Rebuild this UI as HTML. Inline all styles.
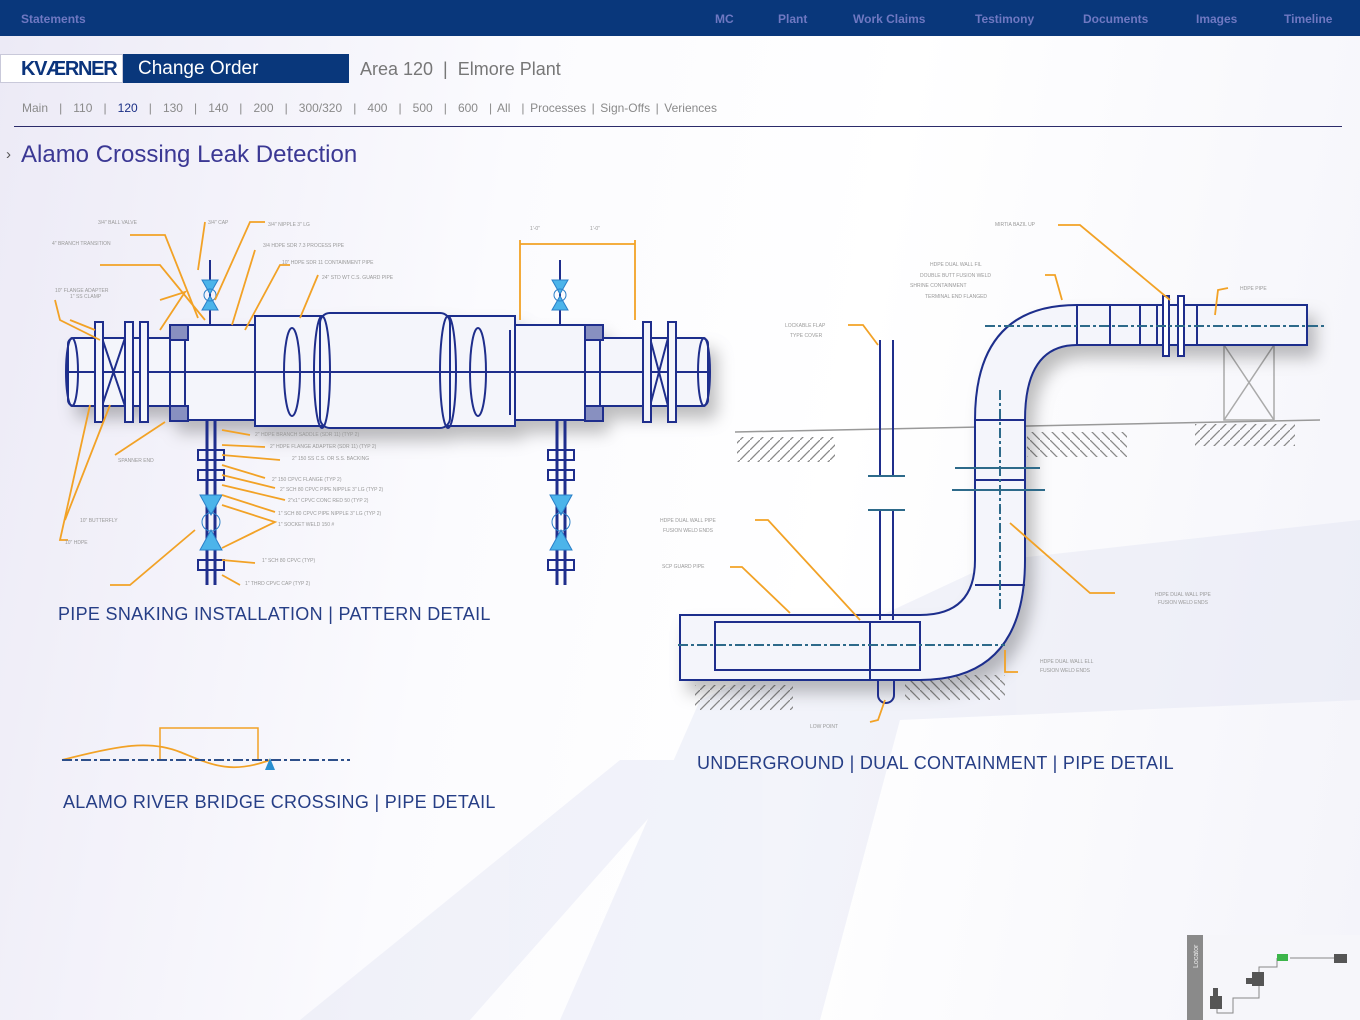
<!DOCTYPE html>
<html><head><meta charset="utf-8"><style>
*{margin:0;padding:0;box-sizing:border-box}
body{width:1360px;height:1020px;overflow:hidden;position:relative;font-family:"Liberation Sans",Arial,sans-serif;background:linear-gradient(100deg,#eceaf6 0%,#fbfbfe 35%,#ffffff 60%,#f4f4fa 100%)}
#top{position:absolute;left:0;top:0;width:1360px;height:36px;background:#09377b}
#top span{position:absolute;top:12px;font-size:12px;font-weight:bold;color:#6f78c2}
.logo{position:absolute;left:0;top:54px;width:123px;height:29px;background:#fff;border:1px solid #c9c9da;font-weight:bold;font-size:20px;color:#0b347c;padding:3px 0 0 20px;letter-spacing:-1.3px}
.co{position:absolute;left:123px;top:54px;width:226px;height:29px;background:#09377b;color:#fff;font-size:19px;padding:4px 0 0 15px}
.area{position:absolute;left:360px;top:59px;font-size:18px;color:#777}
.nav{position:absolute;left:22px;top:101px;font-size:12px;color:#8a8a8a;word-spacing:2.2px}
.nav b{font-weight:normal;color:#1a2f85}
.rule{position:absolute;left:14px;top:126px;width:1328px;height:1px;background:#2b2b6a}
h1{position:absolute;left:21px;top:141px;font-size:24px;font-weight:normal;color:#3b3894}
.arr{position:absolute;left:6px;top:146px;font-size:15px;color:#555}
.cap{position:absolute;font-size:18px;color:#263e86;font-weight:normal;letter-spacing:0.3px}
</style></head><body>
<svg width="1360" height="1020" style="position:absolute;left:0;top:0">
<g fill="#d6daef" opacity="0.3">
<polygon points="560,1020 700,700 760,690 900,720 820,1020"/>
<polygon points="700,700 1000,560 1360,520 1360,700 900,720"/>
<polygon points="300,1020 620,760 700,760 470,1020"/>
</g>
</svg>
<div id="top">
<span style="left:21px">Statements</span><span style="left:715px">MC</span><span style="left:778px">Plant</span><span style="left:853px">Work Claims</span><span style="left:975px">Testimony</span><span style="left:1083px">Documents</span><span style="left:1196px">Images</span><span style="left:1284px">Timeline</span>
</div>
<div class="logo">KVÆRNER</div>
<div class="co">Change Order</div>
<div class="area">Area 120 &nbsp;|&nbsp; Elmore Plant</div>
<div class="nav">Main &nbsp;| &nbsp;110 &nbsp;| &nbsp;<b>120</b> &nbsp;| &nbsp;130 &nbsp;| &nbsp;140 &nbsp;| &nbsp;200 &nbsp;| &nbsp;300/320 &nbsp;| &nbsp;400 &nbsp;| &nbsp;500 &nbsp;| &nbsp;600 &nbsp;| All &nbsp;| Processes | Sign-Offs | Veriences</div>
<div class="rule"></div>
<div class="arr">›</div>
<h1>Alamo Crossing Leak Detection</h1>

<svg width="1360" height="1020" style="position:absolute;left:0;top:0">
<defs><filter id="sh" x="-10%" y="-10%" width="130%" height="140%"><feDropShadow dx="8" dy="12" stdDeviation="8" flood-color="#000" flood-opacity="0.25"/></filter>
<pattern id="hat" width="10" height="10" patternUnits="userSpaceOnUse"><path d="M0,10 L10,0" stroke="#888" stroke-width="1.3"/></pattern>
<pattern id="hat2" width="10" height="10" patternUnits="userSpaceOnUse"><path d="M0,0 L10,10" stroke="#888" stroke-width="1.3"/></pattern></defs>
<g stroke="#1f2e8c" stroke-width="2" fill="#f4f5fb" filter="url(#sh)">
<rect x="68" y="338" width="640" height="68" rx="6"/>
<rect x="170" y="325" width="430" height="95"/>
<rect x="255" y="316" width="70" height="110"/>
<rect x="445" y="316" width="70" height="110"/>
<rect x="320" y="313" width="130" height="115" rx="10"/>
</g>
<g stroke="#1f2e8c" stroke-width="2" fill="none">
<line x1="68" y1="372" x2="708" y2="372"/>
<line x1="185" y1="338" x2="185" y2="406"/><line x1="255" y1="330" x2="255" y2="415"/><line x1="510" y1="330" x2="510" y2="415"/><line x1="585" y1="338" x2="585" y2="406"/>
<ellipse cx="72" cy="372" rx="6" ry="34"/><ellipse cx="704" cy="372" rx="6" ry="34"/>
<ellipse cx="292" cy="372" rx="8" ry="44"/><ellipse cx="322" cy="372" rx="8" ry="56"/><ellipse cx="448" cy="372" rx="8" ry="56"/><ellipse cx="478" cy="372" rx="8" ry="44"/>
<path d="M102,338 L125,406 M125,338 L102,406 M650,338 L668,406 M668,338 L650,406"/>
<rect x="95" y="322" width="8" height="100" fill="#f4f5fb"/><rect x="125" y="322" width="8" height="100" fill="#f4f5fb"/><rect x="140" y="322" width="8" height="100" fill="#f4f5fb"/>
<rect x="643" y="322" width="8" height="100" fill="#f4f5fb"/><rect x="668" y="322" width="8" height="100" fill="#f4f5fb"/>
<rect x="170" y="325" width="18" height="15" fill="#8890c0"/><rect x="170" y="406" width="18" height="15" fill="#8890c0"/>
<rect x="585" y="325" width="18" height="15" fill="#8890c0"/><rect x="585" y="406" width="18" height="15" fill="#8890c0"/>
<line x1="210" y1="260" x2="210" y2="325"/><line x1="560" y1="260" x2="560" y2="325"/>
<line x1="207" y1="420" x2="207" y2="585" stroke-width="3"/><line x1="215" y1="420" x2="215" y2="585" stroke-width="3"/>
<line x1="557" y1="420" x2="557" y2="585" stroke-width="3"/><line x1="565" y1="420" x2="565" y2="585" stroke-width="3"/>
<rect x="198" y="450" width="26" height="10"/><rect x="198" y="470" width="26" height="10"/><rect x="198" y="560" width="26" height="10"/>
<rect x="548" y="450" width="26" height="10"/><rect x="548" y="470" width="26" height="10"/><rect x="548" y="560" width="26" height="10"/>
</g>
<g fill="#4cb4ea" stroke="#2a7fc8" stroke-width="1">
<path d="M202,280 L218,280 L210,294Z M202,310 L218,310 L210,296Z"/><circle cx="210" cy="295" r="6" fill="none"/>
<path d="M552,280 L568,280 L560,294Z M552,310 L568,310 L560,296Z"/><circle cx="560" cy="295" r="6" fill="none"/>
<path d="M200,495 L222,495 L211,515Z M200,550 L222,550 L211,530Z"/><circle cx="211" cy="522" r="9" fill="none"/>
<path d="M550,495 L572,495 L561,515Z M550,550 L572,550 L561,530Z"/><circle cx="561" cy="522" r="9" fill="none"/>
</g>
<g stroke="#f2a226" stroke-width="1.8" fill="none">
<path d="M130,235 L165,235 L198,318"/><path d="M205,222 L198,270"/><path d="M265,222 L250,222 L215,300"/><path d="M100,265 L160,265 L205,320"/>
<path d="M55,300 L60,320 L100,340"/><path d="M70,320 L95,330"/><path d="M160,300 L185,292 L160,330"/><path d="M255,250 L232,325"/><path d="M290,265 L280,265 L245,330"/><path d="M318,275 L300,318"/>
<path d="M520,244 L635,244 M520,240 L520,320 M635,240 L635,320"/>
<path d="M90,405 L60,540 L68,540"/><path d="M110,405 L65,520"/><path d="M165,422 L115,455"/><path d="M195,530 L130,585 L110,585"/>
<path d="M222,430 L250,435"/><path d="M222,445 L265,447"/><path d="M222,455 L280,460"/><path d="M222,465 L265,478"/><path d="M222,475 L275,488"/><path d="M222,485 L285,500"/><path d="M222,495 L275,512"/><path d="M222,505 L275,522 L222,548"/><path d="M222,560 L255,563"/><path d="M222,575 L240,585"/>
</g>
<g font-size="5" fill="#999" font-family="Liberation Sans">
<text x="98" y="224">3/4" BALL VALVE</text><text x="208" y="224">3/4" CAP</text><text x="268" y="226">3/4" NIPPLE 3" LG</text><text x="263" y="247">3/4 HDPE SDR 7.3 PROCESS PIPE</text><text x="282" y="264">10" HDPE SDR 11 CONTAINMENT PIPE</text><text x="322" y="279">24" STD WT C.S. GUARD PIPE</text>
<text x="52" y="245">4" BRANCH TRANSITION</text><text x="55" y="292">10" FLANGE ADAPTER</text><text x="70" y="298">1" SS CLAMP</text>
<text x="255" y="436">2" HDPE BRANCH SADDLE (SDR 11) (TYP 2)</text><text x="270" y="448">2" HDPE FLANGE ADAPTER (SDR 11) (TYP 2)</text><text x="292" y="460">2" 150 SS C.S. OR S.S. BACKING</text><text x="272" y="481">2" 150 CPVC FLANGE (TYP 2)</text><text x="280" y="491">2" SCH 80 CPVC PIPE NIPPLE 3" LG (TYP 2)</text><text x="288" y="502">2"x1" CPVC CONC RED 50 (TYP 2)</text><text x="278" y="515">1" SCH 80 CPVC PIPE NIPPLE 3" LG (TYP 2)</text><text x="278" y="526">1" SOCKET WELD 150 #</text><text x="262" y="562">1" SCH 80 CPVC (TYP)</text><text x="245" y="585">1" THRD CPVC CAP (TYP 2)</text>
<text x="118" y="462">SPANNER END</text><text x="80" y="522">10" BUTTERFLY</text><text x="65" y="544">10" HDPE</text>
<text x="530" y="230">1'-0"</text><text x="590" y="230">1'-0"</text>
</g>
<g fill="none">
<path d="M62,760 C120,745 150,740 180,752 S230,775 270,760" stroke="#f2a226" stroke-width="1.8"/>
<path d="M160,760 L160,728 L258,728 L258,760" stroke="#f2a226" stroke-width="1.5"/>
<line x1="62" y1="760" x2="350" y2="760" stroke="#2d4f8a" stroke-width="2" stroke-dasharray="10,3,3,3"/>
<path d="M265,770 L270,758 L275,770Z" fill="#2a8fd0"/>
</g>
<line x1="735" y1="432" x2="1320" y2="420" stroke="#999" stroke-width="1.5"/>
<rect x="737" y="437" width="98" height="25" fill="url(#hat)"/><rect x="1027" y="432" width="100" height="25" fill="url(#hat2)"/><rect x="1195" y="424" width="100" height="22" fill="url(#hat)"/>
<rect x="695" y="685" width="98" height="25" fill="url(#hat)"/><rect x="905" y="675" width="100" height="25" fill="url(#hat2)"/>
<g stroke="#aaa" stroke-width="1.5" fill="none"><rect x="1224" y="345" width="50" height="75"/><path d="M1224,345 L1274,420 M1274,345 L1224,420"/></g>
<g stroke="#1f2e8c" stroke-width="2" fill="#f4f5fb" filter="url(#sh)">
<path d="M1077,305 L1307,305 L1307,345 L1077,345 Q1025,345 1025,420 L1025,560 Q1025,680 920,680 L680,680 L680,615 L920,615 Q975,615 975,560 L975,420 Q975,305 1077,305Z"/>
</g>
<g stroke="#1f2e8c" stroke-width="2" fill="none">
<rect x="1077" y="305" width="80" height="40"/><line x1="1110" y1="305" x2="1110" y2="345"/><line x1="1140" y1="305" x2="1140" y2="345"/><line x1="1197" y1="305" x2="1197" y2="345"/>
<rect x="1163" y="296" width="6" height="60" fill="#fff"/><rect x="1178" y="296" width="6" height="60" fill="#fff"/>
<rect x="715" y="622" width="205" height="48"/><line x1="870" y1="622" x2="870" y2="680"/>
<line x1="975" y1="480" x2="1025" y2="480"/><line x1="975" y1="420" x2="1025" y2="420"/><line x1="975" y1="585" x2="1025" y2="585"/>
<line x1="880" y1="340" x2="880" y2="475"/><line x1="893" y1="340" x2="893" y2="475"/><line x1="880" y1="510" x2="880" y2="620"/><line x1="893" y1="510" x2="893" y2="620"/>
<path d="M878,680 L878,695 A8,8 0 0 0 894,695 L894,680"/>
</g>
<g stroke="#2d6a8a" stroke-width="2" fill="none" stroke-dasharray="10,3,3,3">
<line x1="985" y1="326" x2="1325" y2="326"/><line x1="678" y1="645" x2="1005" y2="645"/><line x1="1000" y1="390" x2="1000" y2="610"/>
</g>
<g stroke="#2d6a8a" stroke-width="2"><line x1="955" y1="468" x2="1040" y2="468"/><line x1="952" y1="490" x2="1045" y2="490"/><line x1="868" y1="476" x2="905" y2="476"/><line x1="868" y1="510" x2="905" y2="510"/></g>
<g stroke="#f2a226" stroke-width="1.8" fill="none">
<path d="M1058,225 L1080,225 L1170,300"/><path d="M1045,275 L1055,275 L1062,300"/><path d="M1228,288 L1218,290 L1215,315"/><path d="M848,325 L863,325 L878,345"/>
<path d="M755,520 L768,520 L860,620"/><path d="M730,567 L742,567 L790,613"/><path d="M1010,523 L1090,593 L1115,593"/><path d="M1005,650 L1005,672 L1018,672"/><path d="M885,700 L878,720 L870,722"/>
</g>
<g font-size="5" fill="#999" font-family="Liberation Sans">
<text x="995" y="226">MIRTIA BAZIL UP</text><text x="930" y="266">HDPE DUAL WALL FIL</text><text x="920" y="277">DOUBLE BUTT FUSION WELD</text><text x="910" y="287">SHRINE CONTAINMENT</text><text x="925" y="298">TERMINAL END FLANGED</text>
<text x="1240" y="290">HDPE PIPE</text><text x="785" y="327">LOCKABLE FLAP</text><text x="790" y="337">TYPE COVER</text>
<text x="660" y="522">HDPE DUAL WALL PIPE</text><text x="663" y="532">FUSION WELD ENDS</text><text x="662" y="568">SCP GUARD PIPE</text>
<text x="1155" y="596">HDPE DUAL WALL PIPE</text><text x="1158" y="604">FUSION WELD ENDS</text><text x="1040" y="663">HDPE DUAL WALL ELL</text><text x="1040" y="672">FUSION WELD ENDS</text><text x="810" y="728">LOW POINT</text>
</g>
<rect x="1187" y="935" width="173" height="85" fill="#f6f6fa"/>
<rect x="1187" y="935" width="16" height="85" fill="#8a8a8a"/>
<text x="1198" y="968" font-size="7" fill="#eee" transform="rotate(-90 1198 968)">Locator</text>
<g stroke="#888" stroke-width="1" fill="none"><path d="M1290,958 L1335,958"/><path d="M1277,958 L1277,967 L1259,967 L1259,974"/><path d="M1259,985 L1259,998 L1233,998 L1233,1013 L1217,1013 L1217,1005"/></g>
<rect x="1277" y="954" width="11" height="7" fill="#3cb54a"/><rect x="1334" y="954" width="13" height="9" fill="#555"/>
<rect x="1252" y="972" width="12" height="14" fill="#555"/><rect x="1246" y="978" width="8" height="6" fill="#555"/>
<rect x="1213" y="988" width="5" height="10" fill="#555"/><rect x="1210" y="996" width="12" height="13" fill="#555"/>
</svg>
<div class="cap" style="left:58px;top:604px">PIPE SNAKING INSTALLATION | PATTERN DETAIL</div>
<div class="cap" style="left:63px;top:792px">ALAMO RIVER BRIDGE CROSSING | PIPE DETAIL</div>
<div class="cap" style="left:697px;top:753px">UNDERGROUND | DUAL CONTAINMENT | PIPE DETAIL</div>
</body></html>
